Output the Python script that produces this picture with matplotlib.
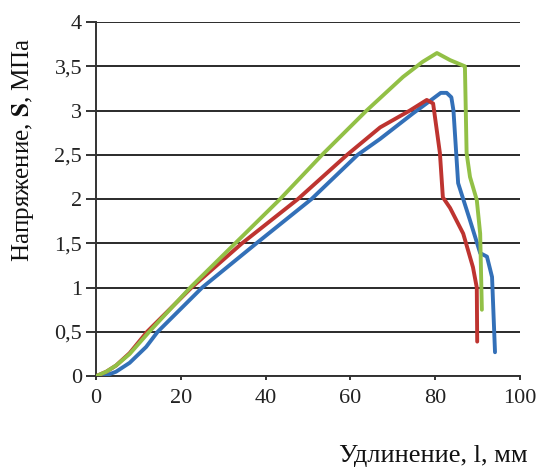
import matplotlib
matplotlib.use("Agg")
import matplotlib.pyplot as plt

# Data
blue_x = [0, 2.5, 4.7, 7.9, 11.8, 14.5, 25, 37.8, 50.8, 61.7, 67, 74.8, 78.5, 81.3, 82.7, 83.8, 84.3, 85.4, 88.2, 90.6, 92.2, 93.4, 94.1]
blue_y = [0, 0.01, 0.05, 0.15, 0.33, 0.5, 1.0, 1.5, 2.0, 2.5, 2.68, 2.97, 3.1, 3.2, 3.2, 3.15, 3.0, 2.18, 1.76, 1.39, 1.35, 1.12, 0.27]

red_x = [0, 2.4, 4.7, 7.9, 12, 22.5, 34.4, 47.6, 59.2, 67, 74, 78, 79.5, 81.1, 81.8, 83.5, 86.6, 88.9, 89.8, 89.9]
red_y = [0, 0.05, 0.12, 0.26, 0.5, 1.0, 1.5, 2.0, 2.5, 2.81, 3.0, 3.12, 3.08, 2.52, 2.02, 1.9, 1.61, 1.23, 1.0, 0.39]

green_x = [0, 2.4, 4.7, 7.9, 12.5, 22.2, 32.8, 43.4, 53.3, 63.8, 72.4, 77, 80.4, 83.5, 87, 87.4, 88.2, 89.8, 90.6, 91]
green_y = [0, 0.05, 0.12, 0.25, 0.5, 1.0, 1.5, 2.0, 2.5, 3.0, 3.38, 3.55, 3.65, 3.57, 3.5, 2.52, 2.25, 1.99, 1.61, 0.75]

x_ticks = [0, 20, 40, 60, 80, 100]
y_ticks = [0, 0.5, 1, 1.5, 2, 2.5, 3, 3.5, 4]
y_tick_labels = ["0", "0,5", "1", "1,5", "2", "2,5", "3", "3,5", "4"]

plt.rcParams['font.family'] = ['Liberation Serif', 'DejaVu Serif']

fig = plt.figure(figsize=(5.4, 4.69), dpi=100)
ax = fig.add_axes([0.178, 0.198, 0.785, 0.755])

kw = dict(lw=2.8, solid_capstyle='round', solid_joinstyle='round')
ax.plot(blue_x, blue_y, color='#3370B8', zorder=3, **kw)
ax.plot(red_x, red_y, color='#BE3430', zorder=3, **kw)
ax.plot(green_x, green_y, color='#92C046', zorder=4, **kw)

ax.set_xlim(0, 100)
ax.set_ylim(0, 4)
ax.set_xticks(x_ticks)
ax.set_yticks(y_ticks)
ax.set_yticklabels(y_tick_labels)
ax.yaxis.grid(True, color='#2a2a2a', lw=1.4)
ax.set_axisbelow(True)
for s in ['top', 'right']:
    ax.spines[s].set_visible(False)
for s in ['left', 'bottom']:
    ax.spines[s].set_color('#333333')
    ax.spines[s].set_linewidth(1.4)
ax.tick_params(axis='both', direction='out', width=1.4, color='#333333',
               labelsize=16, labelcolor='#222222')
ax.tick_params(axis='x', length=3, pad=6)
ax.tick_params(axis='y', length=7, pad=3)

fig.text(23 / 540, 1 - 150 / 469, 'Напряжение, $\\mathbf{S}$, МПа', fontsize=18,
         rotation=90, ha='center', va='center', color='#111111', math_fontfamily='stix')
fig.text(528 / 540, 1 - 462 / 469, 'Удлинение, l, мм', fontsize=19, ha='right',
         va='baseline', color='#111111')

fig.savefig('out.png', dpi=100)
